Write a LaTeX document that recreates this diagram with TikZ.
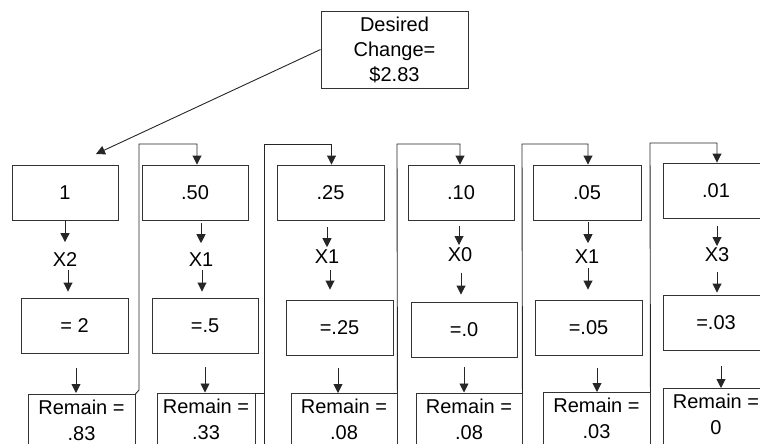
\documentclass[tikz,border=0pt]{standalone}
\usepackage{fontspec}
\setmainfont{Liberation Sans}
\usetikzlibrary{arrows.meta}
\begin{document}
\begin{tikzpicture}[x=1pt,y=-1pt,
  every node/.style={font=\fontsize{20}{25}\selectfont},
  box/.style={draw=black!80, line width=0.9pt, minimum height=55pt, inner sep=0pt, rectangle},
  rem/.style={draw=black!80, line width=0.9pt, anchor=north, align=center, inner xsep=0pt, inner ysep=5.5pt, text depth=45pt, font=\fontsize{20}{26}\selectfont},
  lbl/.style={inner sep=0pt},
  arr/.style={draw=black!85, line width=0.9pt, -{Triangle[length=9pt,width=9pt]}},
  conn/.style={draw=black!85, line width=0.9pt},
]
\useasboundingbox (0,0) rectangle (760,444);
\clip (0,0) rectangle (760,444);

% top box
\node[box, minimum width=147pt, minimum height=77pt, align=center] (d) at (394.5,49.5) {Desired\\Change=\\\$2.83};
\coordinate (p) at (96,154);
\draw[arr] (d.west) -- (p);

% column 1
\node[box, minimum width=106pt] (t1) at (65,192.5) {1};
\node[lbl] (m1) at (65,260) {X2};
\node[box, minimum width=107pt] (r1) at (74.5,325.5) {= 2};
\node[rem, minimum width=107pt] (q1) at (81.5,394) {Remain =\\.83};
\draw[arr, shorten >=10.7pt] (t1.south) -- (m1.north);
\draw[arr, shorten <=2.7pt, shorten >=6pt] ([xshift=3pt]m1.south) -- ([xshift=3pt]m1.south |- r1.north);
\draw[arr, shorten <=15pt, shorten >=1pt] ([xshift=1.5pt]r1.south) -- ([xshift=1.5pt]r1.south |- q1.north);

% column 2
\node[box, minimum width=106pt] (t2) at (195,192.5) {.50};
\node[lbl] (m2) at (201,260) {X1};
\node[box, minimum width=106pt] (r2) at (205,325.5) {=.5};
\node[rem, minimum width=98pt] (q2) at (206,393) {Remain =\\.33};
\draw[arr, shorten <=3pt, shorten >=9.7pt] (t2.south -| m2.north) -- (m2.north);
\draw[arr, shorten <=2.7pt, shorten >=6pt] ([xshift=1pt]m2.south) -- ([xshift=1pt]m2.south |- r2.north);
\draw[arr, shorten <=14pt, shorten >=0.5pt] (r2.south) -- (r2.south |- q2.north);

% column 3
\node[box, minimum width=107pt] (t3) at (330.5,192.5) {.25};
\node[lbl] (m3) at (327,257) {X1};
\node[box, minimum width=107pt] (r3) at (339.5,327.5) {=.25};
\node[rem, minimum width=106pt] (q3) at (344,393) {Remain =\\.08};
\draw[arr, shorten <=7pt, shorten >=2.7pt] (t3.south -| m3.north) -- (m3.north);
\draw[arr, shorten <=5.7pt, shorten >=10pt] ([xshift=3pt]m3.south) -- ([xshift=3pt]m3.south |- r3.north);
\draw[arr, shorten <=13pt] ([xshift=-1.5pt]r3.south) -- ([xshift=-1.5pt]r3.south |- q3.north);

% column 4
\node[box, minimum width=106pt] (t4) at (461,192.5) {.10};
\node[lbl] (m4) at (460,255) {X0};
\node[box, minimum width=106pt] (r4) at (464,329.5) {=.0};
\node[rem, minimum width=106pt] (q4) at (469,393) {Remain =\\.08};
\draw[arr, shorten <=6pt, shorten >=2.7pt] ([xshift=-1pt]t4.south -| m4.north) -- ([xshift=-1pt]m4.north);
\draw[arr, shorten <=10.7pt, shorten >=7pt] ([xshift=1pt]m4.south) -- ([xshift=1pt]m4.south |- r4.north);
\draw[arr, shorten <=10pt, shorten >=0.5pt] (r4.south) -- (r4.south |- q4.north);

% column 5
\node[box, minimum width=108pt] (t5) at (587,192.5) {.05};
\node[lbl] (m5) at (587,257) {X1};
\node[box, minimum width=107pt] (r5) at (588.5,327.5) {=.05};
\node[rem, minimum width=107pt] (q5) at (596.5,392) {Remain =\\.03};
\draw[arr, shorten <=2pt, shorten >=6.7pt] ([xshift=1pt]t5.south -| m5.north) -- ([xshift=1pt]m5.north);
\draw[arr, shorten <=3.7pt, shorten >=10pt] ([xshift=1pt]m5.south) -- ([xshift=1pt]m5.south |- r5.north);
\draw[arr, shorten <=13pt] ([xshift=8.5pt]r5.south) -- ([xshift=8.5pt]r5.south |- q5.north);

% column 6
\node[box, minimum width=106pt] (t6) at (716,190.5) {.01};
\node[lbl] (m6) at (717,255) {X3};
\node[box, minimum width=106pt] (r6) at (716,322.5) {=.03};
\node[rem, minimum width=106pt] (q6) at (716,388) {Remain =\\0};
\draw[arr, shorten <=8pt, shorten >=1.7pt] (t6.south -| m6.north) -- (m6.north);
\draw[arr, shorten <=9.7pt, shorten >=2pt] (m6.south) -- (m6.south |- r6.north);
\draw[arr, shorten <=16pt] ([xshift=5pt]r6.south) -- ([xshift=5pt]r6.south |- q6.north);

% connectors between columns
\coordinate (k1) at (139,390);
\draw[arr] (q1.north east) -- (k1) -- (139,144) -| ([xshift=2pt]t2.north);
\coordinate (k2) at (264,393);
\coordinate (b2) at (264,450);
\draw[conn] (q2.north east) -- (k2);
\draw[arr] (b2) -- (264,144) -| ([xshift=1pt]t3.north);
\draw[arr] (q3.north east) -- (397,144) -| ([xshift=-1pt]t4.north);
\draw[arr] (q4.north east) -- (522,144) -| ([xshift=1pt]t5.north);
\draw[arr] (q5.north east) -- (650,143) -| ([xshift=1pt]t6.north);
\end{tikzpicture}
\end{document}
